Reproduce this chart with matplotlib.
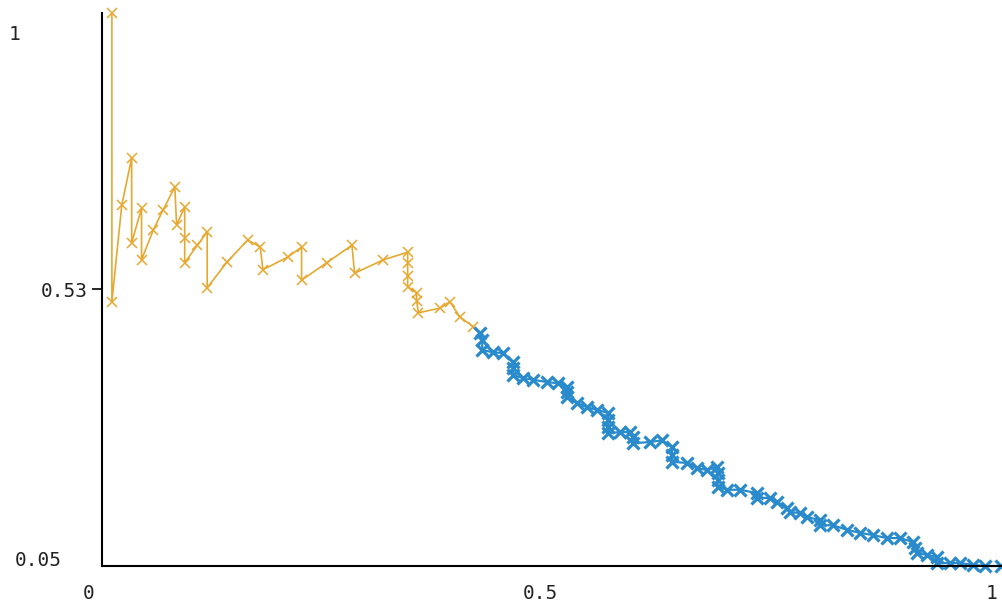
import matplotlib.pyplot as plt
from matplotlib.transforms import ScaledTranslation

# ==========================
# DATA
# ==========================

recall_orange = [0.011, 0.011, 0.022, 0.033, 0.033, 0.044, 0.044, 0.057, 0.068,
                 0.081, 0.083, 0.092, 0.092, 0.092, 0.106, 0.117, 0.117, 0.139,
                 0.162, 0.176, 0.179, 0.207, 0.222, 0.222, 0.250, 0.278, 0.281,
                 0.313, 0.340, 0.340, 0.340, 0.340, 0.350, 0.350, 0.352, 0.376,
                 0.387, 0.398, 0.413, 0.420]
precision_orange = [1.000, 0.504, 0.670, 0.751, 0.605, 0.665, 0.576, 0.627, 0.662,
                    0.701, 0.636, 0.667, 0.613, 0.571, 0.601, 0.624, 0.528, 0.572,
                    0.610, 0.598, 0.559, 0.581, 0.598, 0.541, 0.571, 0.601, 0.553,
                    0.576, 0.589, 0.570, 0.548, 0.530, 0.519, 0.505, 0.485, 0.493,
                    0.504, 0.478, 0.461, 0.450]

recall_blue = [0.420, 0.423, 0.423, 0.435, 0.446, 0.457, 0.457, 0.457, 0.468,
               0.479, 0.495, 0.507, 0.517, 0.517, 0.517, 0.528, 0.539, 0.551,
               0.563, 0.563, 0.563, 0.563, 0.576, 0.587, 0.591, 0.591, 0.610,
               0.623, 0.634, 0.634, 0.634, 0.651, 0.662, 0.673, 0.684, 0.685,
               0.685, 0.685, 0.695, 0.710, 0.729, 0.729, 0.743, 0.751, 0.762,
               0.765, 0.776, 0.784, 0.799, 0.799, 0.813, 0.829, 0.843, 0.858,
               0.873, 0.888, 0.902, 0.904, 0.907, 0.918, 0.929, 0.929, 0.943,
               0.954, 0.969, 0.982, 1.000]
precision_blue = [0.450, 0.438, 0.421, 0.417, 0.416, 0.400, 0.390, 0.378, 0.373,
                  0.370, 0.366, 0.364, 0.358, 0.349, 0.340, 0.330, 0.323, 0.318,
                  0.313, 0.301, 0.289, 0.278, 0.280, 0.280, 0.272, 0.261, 0.263,
                  0.266, 0.254, 0.241, 0.229, 0.227, 0.218, 0.215, 0.220, 0.210,
                  0.198, 0.186, 0.181, 0.181, 0.175, 0.167, 0.167, 0.160, 0.150,
                  0.143, 0.141, 0.134, 0.129, 0.120, 0.120, 0.112, 0.107, 0.103,
                  0.098, 0.098, 0.091, 0.081, 0.072, 0.069, 0.065, 0.055, 0.055,
                  0.055, 0.052, 0.050, 0.050]

y_ticks = [0.05, 0.525, 1.0]
y_labels = ["0.05", "0.53", "1"]
x_ticks = [0, 0.5, 1]
x_labels = ["0", "0.5", "1"]

# ==========================
# FIGURE
# ==========================

fig = plt.figure(figsize=(10.02, 6.04), dpi=100)
ax = fig.add_axes([102 / 1002, 38 / 604, 899 / 1002, 553 / 604])

ax.plot(recall_orange, precision_orange, color="#E6A82F", linewidth=1.2,
        marker="x", markersize=7, markeredgewidth=1.1, clip_on=False)
ax.plot(recall_blue, precision_blue, color="#2A8BCC", linewidth=1.6,
        marker="x", markersize=8, markeredgewidth=2.3, clip_on=False)

ax.set_xlim(0, 1)
ax.set_ylim(0.05, 1)

for s in ["top", "right"]:
    ax.spines[s].set_visible(False)
ax.spines["left"].set_linewidth(1.5)
ax.spines["bottom"].set_linewidth(1.5)

ax.set_yticks(y_ticks)
ax.set_yticklabels(y_labels, family="DejaVu Sans Mono", fontsize=14,
                   color="#222222")
ax.set_xticks(x_ticks)
ax.set_xticklabels(x_labels, family="DejaVu Sans Mono", fontsize=14,
                   color="#222222")
ax.tick_params(axis="y", length=7, width=1.2, pad=3)
ax.tick_params(axis="x", length=0, pad=13)

# only the middle y tick has a mark
ticks = ax.yaxis.get_major_ticks()
ticks[0].tick1line.set_visible(False)
ticks[2].tick1line.set_visible(False)

# shift labels like in the original
dpi = fig.dpi
y_shift = [(-26, 7), (0, 0), (-68, -19)]
for lab, (dx, dy) in zip(ax.get_yticklabels(), y_shift):
    lab.set_transform(lab.get_transform() + ScaledTranslation(dx / dpi, dy / dpi, fig.dpi_scale_trans))
x_shift = [-13, -11, -9]
for lab, dx in zip(ax.get_xticklabels(), x_shift):
    lab.set_transform(lab.get_transform() + ScaledTranslation(dx / dpi, 0, fig.dpi_scale_trans))

plt.savefig("out.png", dpi=100)
